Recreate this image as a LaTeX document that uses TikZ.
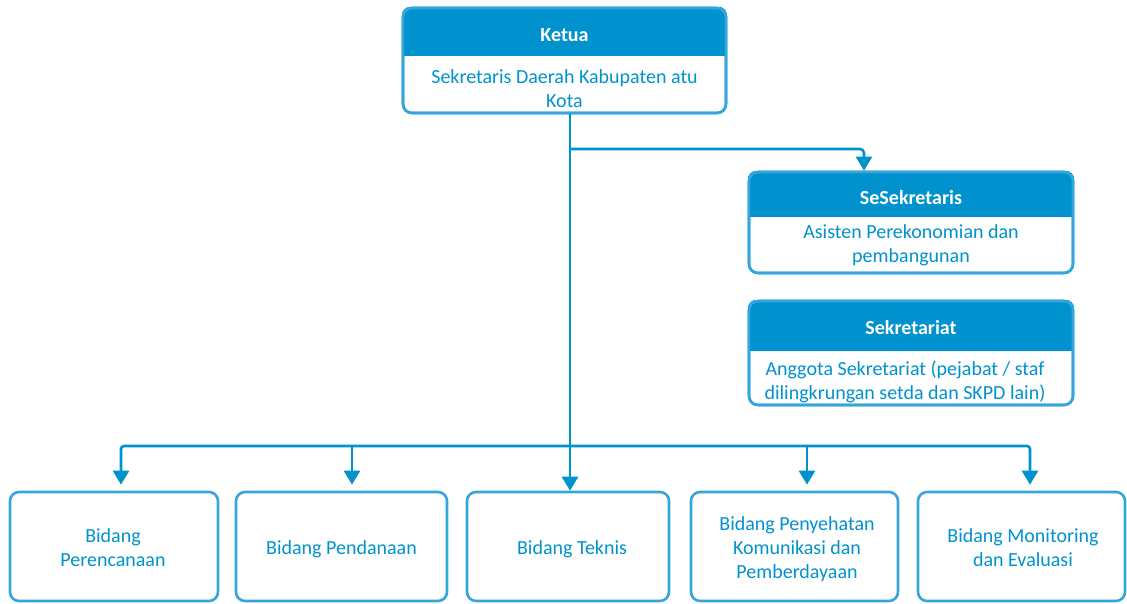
\documentclass[tikz,border=0pt]{standalone}
\usepackage{fontspec}
\setmainfont{Carlito}
\usetikzlibrary{arrows.meta}
\definecolor{main}{RGB}{0,146,206}
\definecolor{edge}{RGB}{52,166,220}
\newcommand{\fsz}{\fontsize{20}{24}\selectfont}
\tikzset{
  boxshape/.style={draw=edge, line width=2.6pt, rounded corners=9pt, inner sep=0pt},
  bodytxt/.style={text=main, font=\fsz, align=center, inner sep=0pt},
  hdrtxt/.style={text=white, font=\fsz\bfseries, inner sep=0pt},
  conn/.style={draw=main, line width=2.6pt, -{Triangle[width=16pt,length=14pt]}},
}
\begin{document}
\begin{tikzpicture}[x=1pt,y=-1pt]
\useasboundingbox (0,0) rectangle (1127,603);

% ---- Ketua
\node[boxshape, minimum width=323pt, minimum height=105pt] (ketua) at (564.5,60.5) {};
\begin{scope}
  \clip[rounded corners=9pt] (ketua.north west) rectangle (ketua.south east);
  \fill[main] (ketua.north west) rectangle ([yshift=-49pt]ketua.north east);
\end{scope}
\node[boxshape, minimum width=323pt, minimum height=105pt] at (ketua) {};
\node[hdrtxt] (ketuaH) at (564.5,35.5) {Ketua};
\node[bodytxt] (ketuaB) at (564.5,88.5) {Sekretaris Daerah Kabupaten atu\\Kota};

% ---- SeSekretaris
\node[boxshape, minimum width=324pt, minimum height=101pt] (sesek) at (911,222.5) {};
\begin{scope}
  \clip[rounded corners=9pt] (sesek.north west) rectangle (sesek.south east);
  \fill[main] (sesek.north west) rectangle ([yshift=-46pt]sesek.north east);
\end{scope}
\node[boxshape, minimum width=324pt, minimum height=101pt] at (sesek) {};
\node[hdrtxt] (sesekH) at (911,197.5) {SeSekretaris};
\node[bodytxt] (sesekB) at (911,245.5) {Asisten Perekonomian dan\\pembangunan};

% ---- Sekretariat
\node[boxshape, minimum width=324pt, minimum height=104pt] (sekr) at (911,353) {};
\begin{scope}
  \clip[rounded corners=9pt] (sekr.north west) rectangle (sekr.south east);
  \fill[main] (sekr.north west) rectangle ([yshift=-51pt]sekr.north east);
\end{scope}
\node[boxshape, minimum width=324pt, minimum height=104pt] at (sekr) {};
\node[hdrtxt] (sekrH) at (911,328) {Sekretariat};
\node[bodytxt] (sekrB) at (905,381.5) {Anggota Sekretariat (pejabat / staf\\dilingkrungan setda dan SKPD lain)};

% ---- Bidang boxes
\node[boxshape, minimum width=208pt, minimum height=109pt] (b1) at (114,546.5) {};
\node[boxshape, minimum width=211pt, minimum height=109pt] (b2) at (341.5,546.5) {};
\node[boxshape, minimum width=202pt, minimum height=109pt] (b3) at (568,546.5) {};
\node[boxshape, minimum width=207pt, minimum height=109pt] (b4) at (794.5,546.5) {};
\node[boxshape, minimum width=207pt, minimum height=109pt] (b5) at (1021.5,546.5) {};
\node[bodytxt] (b1t) at (113,548) {Bidang\\Perencanaan};
\node[bodytxt] (b2t) at (341.5,549) {Bidang Pendanaan};
\node[bodytxt] (b3t) at (572,549) {Bidang Teknis};
\node[bodytxt] (b4t) at (797,549) {Bidang Penyehatan\\Komunikasi dan\\Pemberdayaan};
\node[bodytxt] (b5t) at (1023,548) {Bidang Monitoring\\dan Evaluasi};

% ---- connectors
\coordinate (split) at (570,149);
\coordinate (bus) at (570,446);
\coordinate (tse) at (864,149);
\coordinate (x1) at (121,446);
\coordinate (x2) at (352,446);
\coordinate (x4) at (807,446);
\coordinate (x5) at (1030,446);

\draw[conn] (ketua.south -| split) -- (b3.north -| split);
\draw[conn, rounded corners=4pt] (split) -- (tse) -- (sesek.north -| tse);
\draw[conn, rounded corners=3pt, shorten >=6pt] (bus) -| (b1.north -| x1);
\draw[conn, shorten >=6pt] (x2) -- (b2.north -| x2);
\draw[conn, rounded corners=3pt, shorten >=6pt] (bus) -| (b5.north -| x5);
\draw[conn, shorten >=6pt] (x4) -- (b4.north -| x4);
\end{tikzpicture}
\end{document}
